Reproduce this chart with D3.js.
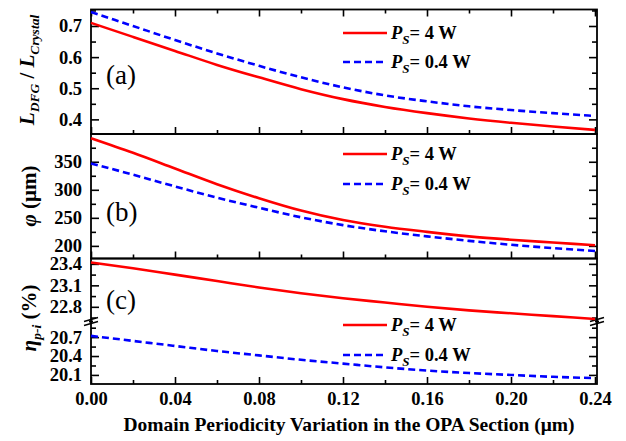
<!DOCTYPE html>
<html><head><meta charset="utf-8">
<script src="https://cdn.jsdelivr.net/npm/d3@7"></script>
<style>body{margin:0;background:#fff}svg{display:block}</style>
</head><body>
<svg id="c" width="626" height="441"></svg>
<script>
const xValues = [0,0.02,0.04,0.06,0.08,0.10,0.12,0.14,0.16,0.18,0.20,0.22,0.24];
const ratio4W  = [0.710,0.665,0.620,0.575,0.535,0.497,0.465,0.440,0.420,0.403,0.389,0.377,0.366];
const ratio04W = [0.745,0.700,0.655,0.612,0.572,0.535,0.503,0.477,0.458,0.442,0.430,0.420,0.411];
const phi4W    = [392,366,338,310,285,263,246,234,225,217,211,206,201];
const phi04W   = [347,327,306,286,268,251,237,226,217,209,202,196,191];
const eta4W    = [23.42,23.34,23.25,23.16,23.07,22.99,22.92,22.86,22.80,22.75,22.71,22.67,22.63];
const eta04W   = [20.72,20.64,20.56,20.48,20.41,20.34,20.28,20.22,20.17,20.13,20.10,20.07,20.05];
const xTicks = [0,0.04,0.08,0.12,0.16,0.20,0.24];
const xMinor = [0.02,0.06,0.10,0.14,0.18,0.22];
const aTicks = [0.4,0.5,0.6,0.7], aMinor=[0.35,0.45,0.55,0.65,0.75];
const bTicks = [200,250,300,350], bMinor=[225,275,325,375];
const cUpTicks = [22.8,23.1,23.4], cUpMinor=[22.65,22.95,23.25];
const cLoTicks = [20.1,20.4,20.7], cLoMinor=[20.25,20.55,20.85];
const legendLabels = ["4 W","0.4 W"];

const svg = d3.select("#c");
const L=91,R=597, Ta=9.5, Tb=134, Tc=258.5, Brk=321.5, Bot=384;
const x = d3.scaleLinear([0,0.24],[L,595]);
const ya = d3.scaleLinear([0.353,0.753],[Tb,Ta]);
const yb = d3.scaleLinear([177.5,399.5],[Tc,Tb]);
const ycU = d3.scaleLinear([22.595,23.475],[Brk,Tc]);
const ycL = d3.scaleLinear([19.956,20.948],[Bot,Brk]);

function yAxes(scale, major, minor, labels){
  const inD = v=>v>=scale.domain()[0]&&v<=scale.domain()[1];
  svg.append("g").attr("transform",`translate(${L},0)`)
    .call(d3.axisLeft(scale).tickValues(major).tickSize(-8).tickPadding(9).tickFormat(labels))
    .call(g=>g.select(".domain").remove());
  svg.append("g").attr("transform",`translate(${L},0)`)
    .call(d3.axisLeft(scale).tickValues(minor.filter(inD)).tickSize(-5).tickFormat(""))
    .call(g=>g.select(".domain").remove());
  svg.append("g").attr("transform",`translate(${R},0)`)
    .call(d3.axisRight(scale).tickValues(major).tickSize(-8).tickFormat(""))
    .call(g=>g.select(".domain").remove());
  svg.append("g").attr("transform",`translate(${R},0)`)
    .call(d3.axisRight(scale).tickValues(minor.filter(inD)).tickSize(-5).tickFormat(""))
    .call(g=>g.select(".domain").remove());
}
function xAxis(yPos, labels){
  svg.append("g").attr("transform",`translate(0,${yPos})`)
    .call(d3.axisBottom(x).tickValues(xTicks).tickSize(-7).tickPadding(8).tickFormat(labels?d3.format(".2f"):""))
    .call(g=>g.select(".domain").remove());
  svg.append("g").attr("transform",`translate(0,${yPos})`)
    .call(d3.axisBottom(x).tickValues(xMinor).tickSize(-4).tickFormat(""))
    .call(g=>g.select(".domain").remove());
}
yAxes(ya,aTicks,aMinor,d3.format(".1f"));
yAxes(yb,bTicks,bMinor,d3.format("d"));
yAxes(ycU,cUpTicks,cUpMinor,d3.format(".1f"));
yAxes(ycL,cLoTicks,cLoMinor,d3.format(".1f"));
xAxis(Tb,false); xAxis(Tc,false); xAxis(Bot,true);
svg.append("g").attr("transform",`translate(0,${Ta})`)
  .call(d3.axisTop(x).tickValues(xTicks).tickSize(-7).tickFormat(""))
  .call(g=>g.select(".domain").remove());
svg.append("g").attr("transform",`translate(0,${Ta})`)
  .call(d3.axisTop(x).tickValues(xMinor).tickSize(-4).tickFormat(""))
  .call(g=>g.select(".domain").remove());
svg.selectAll(".tick line").attr("stroke","#000").attr("stroke-width",1.6);
svg.selectAll(".tick text").attr("font-size",18.5).attr("font-weight","bold").attr("fill","#000");

// frames
[[Ta,Tb],[Tb,Tc],[Tc,Bot]].forEach(([t,b])=>{
  svg.append("rect").attr("x",L).attr("y",t).attr("width",R-L).attr("height",b-t)
    .attr("fill","none").attr("stroke","#000").attr("stroke-width",1.8);
});
// break marks
[L,R].forEach(px=>{
  [-2,2].forEach(o=>{
    svg.append("line").attr("x1",px-7).attr("y1",Brk+o+2).attr("x2",px+7).attr("y2",Brk+o-2)
      .attr("stroke","#000").attr("stroke-width",1.5);
  });
  svg.append("rect").attr("x",px-2).attr("y",Brk-1).attr("width",4).attr("height",2).attr("fill","#000");
});

function series(scale, vals, color, dashed){
  const line = d3.line().x((d,i)=>x(xValues[i])).y(d=>scale(d)).curve(d3.curveMonotoneX);
  svg.append("path").datum(vals).attr("d",line).attr("fill","none").attr("stroke",color)
    .attr("stroke-width",2.6).attr("stroke-dasharray",dashed?"7,4":null);
}
series(ya,ratio4W,"#ff0000",false); series(ya,ratio04W,"#0000ff",true);
series(yb,phi4W,"#ff0000",false); series(yb,phi04W,"#0000ff",true);
series(ycU,eta4W,"#ff0000",false); series(ycL,eta04W,"#0000ff",true);

// panel labels
[["(a)",75],["(b)",212],["(c)",300]].forEach(([t,yy])=>{
  svg.append("text").attr("x",106).attr("y",yy+9).attr("font-size",27).text(t);
});

// legends
function legend(y1,y2){
  [[y1,"#ff0000",false,legendLabels[0]],[y2,"#0000ff",true,legendLabels[1]]].forEach(([yy,c,d,lab])=>{
    svg.append("line").attr("x1",343).attr("x2",387).attr("y1",yy).attr("y2",yy)
      .attr("stroke",c).attr("stroke-width",2.6).attr("stroke-dasharray",d?"7,4":null);
    const t=svg.append("text").attr("x",391).attr("y",yy+6).attr("font-size",18.5).attr("font-weight","bold");
    t.append("tspan").attr("font-style","italic").text("P");
    t.append("tspan").attr("dy",5).attr("font-size",13).attr("font-style","italic").text("S");
    t.append("tspan").attr("dy",-5).text("= "+lab);
  });
}
legend(33,62); legend(154,184); legend(325,355);

// axis titles
const ta = svg.append("text").attr("transform","translate(34,70) rotate(-90)").attr("text-anchor","middle").attr("font-size",21).attr("font-weight","bold");
ta.append("tspan").attr("font-style","italic").text("L");
ta.append("tspan").attr("dy",5).attr("font-size",13.5).attr("font-style","italic").text("DFG");
ta.append("tspan").attr("dy",-5).text(" / ");
ta.append("tspan").attr("font-style","italic").text("L");
ta.append("tspan").attr("dy",5).attr("font-size",13.5).attr("font-style","italic").text("Crystal");
const tb = svg.append("text").attr("transform","translate(36,196) rotate(-90)").attr("text-anchor","middle").attr("font-size",21).attr("font-weight","bold");
tb.append("tspan").attr("font-style","italic").text("φ");
tb.append("tspan").text(" (μm)");
const tc = svg.append("text").attr("transform","translate(36,318) rotate(-90)").attr("text-anchor","middle").attr("font-size",21).attr("font-weight","bold");
tc.append("tspan").attr("font-style","italic").text("η");
tc.append("tspan").attr("dy",5).attr("font-size",13.5).attr("font-style","italic").text("p-i");
tc.append("tspan").attr("dy",-5).text("  (%)");
svg.append("text").attr("x",349).attr("y",431).attr("text-anchor","middle").attr("font-size",19.5).attr("font-weight","bold")
  .text("Domain Periodicity Variation in the OPA Section  (μm)");

svg.selectAll("g").attr("font-family",null);
svg.selectAll("text").style("font-family","Liberation Serif");
</script>
</body></html>
